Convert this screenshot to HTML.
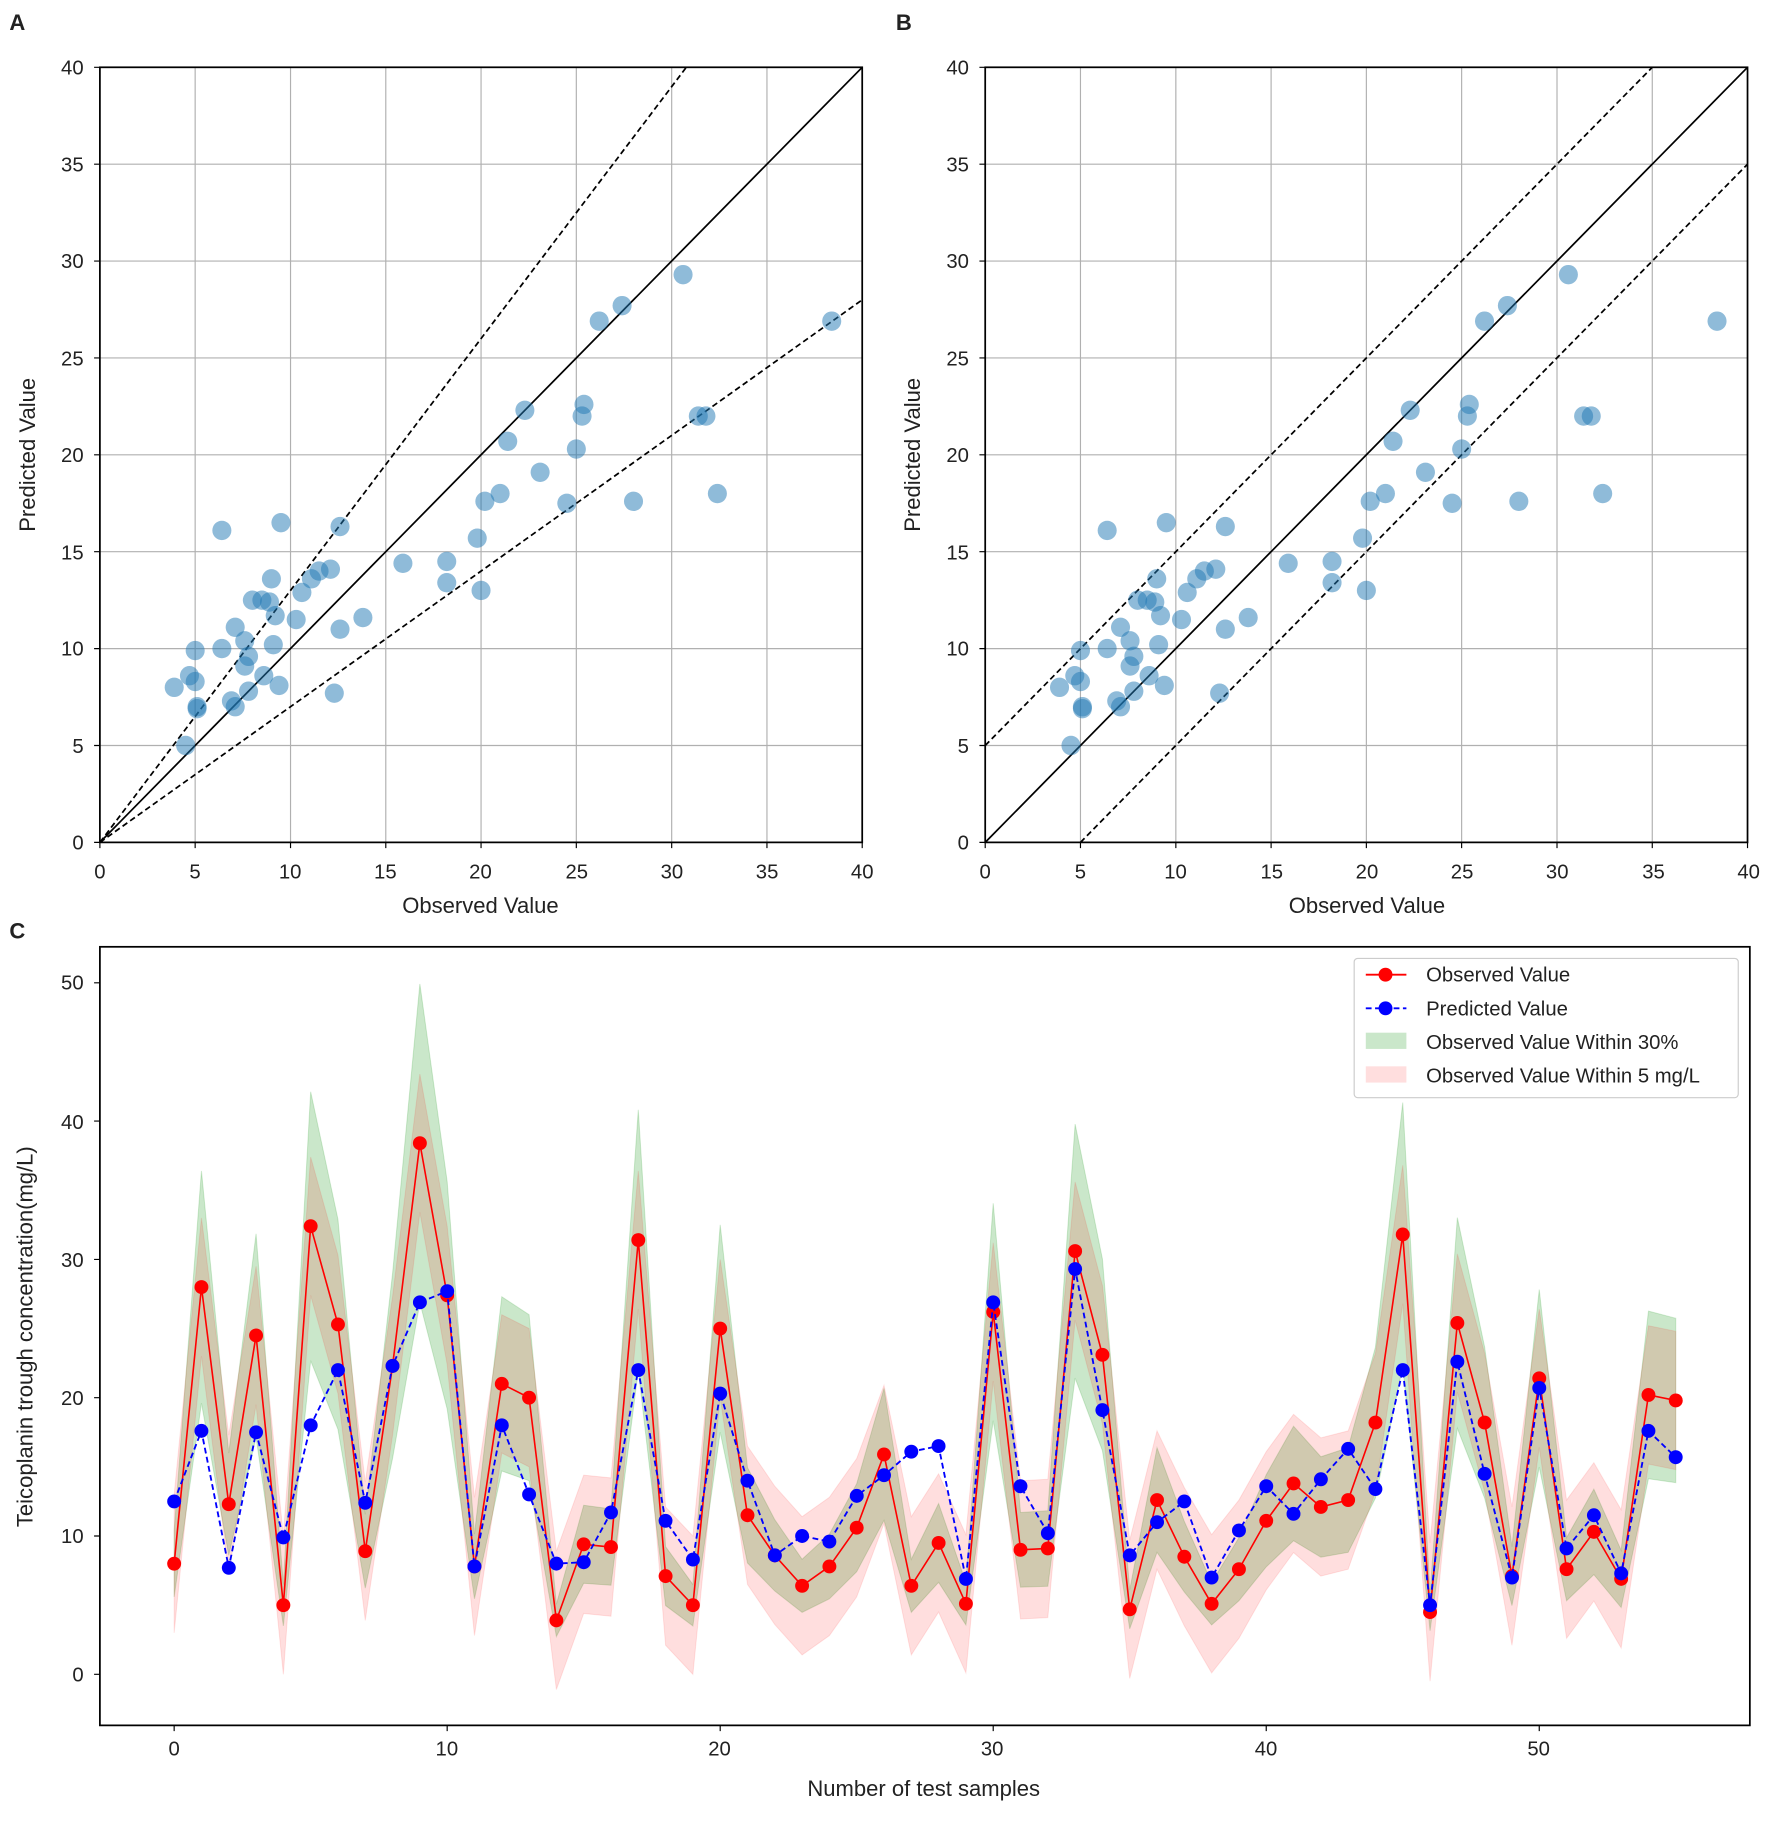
<!DOCTYPE html>
<html><head><meta charset="utf-8"><style>
html,body{margin:0;padding:0;background:#fff}
svg{display:block}
text{font-family:"Liberation Sans",Arial,sans-serif;fill:#222}
</style></head><body>
<svg xmlns="http://www.w3.org/2000/svg" xmlns:xlink="http://www.w3.org/1999/xlink" width="1772" height="1824" viewBox="0 0 1527 1572">
<rect width="1527" height="1572" fill="#fff"/>
<defs>
<g id="grid" stroke="#b0b0b0" stroke-width="1">
<path d="M168.1,58V726M250.3,58V726M332.4,58V726M414.5,58V726M496.6,58V726M578.8,58V726M660.9,58V726M86,642.5H743M86,559H743M86,475.5H743M86,392H743M86,308.5H743M86,225H743M86,141.5H743"/>
<path stroke="#000" d="M86,726v5M168.1,726v5M250.3,726v5M332.4,726v5M414.5,726v5M496.6,726v5M578.8,726v5M660.9,726v5M743,726v5M86,726h-5M86,642.5h-5M86,559h-5M86,475.5h-5M86,392h-5M86,308.5h-5M86,225h-5M86,141.5h-5M86,58h-5"/>
</g>
<g id="sc" transform="translate(86,726) scale(16.425,-16.7)" fill="#1f77b4" fill-opacity="0.5">
<circle cx="8.0" cy="12.5" r="0.5"/><circle cx="28" cy="17.6" r="0.5"/><circle cx="12.3" cy="7.7" r="0.5"/><circle cx="24.5" cy="17.5" r="0.5"/><circle cx="5.0" cy="9.9" r="0.5"/><circle cx="32.4" cy="18.0" r="0.5"/><circle cx="25.3" cy="22.0" r="0.5"/><circle cx="8.9" cy="12.4" r="0.5"/><circle cx="22.3" cy="22.3" r="0.5"/><circle cx="38.4" cy="26.9" r="0.5"/><circle cx="27.4" cy="27.7" r="0.5"/><circle cx="7.8" cy="7.8" r="0.5"/><circle cx="21.0" cy="18.0" r="0.5"/><circle cx="20.0" cy="13.0" r="0.5"/><circle cx="3.9" cy="8.0" r="0.5"/><circle cx="9.4" cy="8.1" r="0.5"/><circle cx="9.2" cy="11.7" r="0.5"/><circle cx="31.4" cy="22.0" r="0.5"/><circle cx="7.1" cy="11.1" r="0.5"/><circle cx="5.0" cy="8.3" r="0.5"/><circle cx="25.0" cy="20.3" r="0.5"/><circle cx="11.5" cy="14.0" r="0.5"/><circle cx="8.6" cy="8.6" r="0.5"/><circle cx="6.4" cy="10.0" r="0.5"/><circle cx="7.8" cy="9.6" r="0.5"/><circle cx="10.6" cy="12.9" r="0.5"/><circle cx="15.9" cy="14.4" r="0.5"/><circle cx="6.4" cy="16.1" r="0.5"/><circle cx="9.5" cy="16.5" r="0.5"/><circle cx="5.1" cy="6.9" r="0.5"/><circle cx="26.2" cy="26.9" r="0.5"/><circle cx="9.0" cy="13.6" r="0.5"/><circle cx="9.1" cy="10.2" r="0.5"/><circle cx="30.6" cy="29.3" r="0.5"/><circle cx="23.1" cy="19.1" r="0.5"/><circle cx="4.7" cy="8.6" r="0.5"/><circle cx="12.6" cy="11.0" r="0.5"/><circle cx="8.5" cy="12.5" r="0.5"/><circle cx="5.1" cy="7.0" r="0.5"/><circle cx="7.6" cy="10.4" r="0.5"/><circle cx="11.1" cy="13.6" r="0.5"/><circle cx="13.8" cy="11.6" r="0.5"/><circle cx="12.1" cy="14.1" r="0.5"/><circle cx="12.6" cy="16.3" r="0.5"/><circle cx="18.2" cy="13.4" r="0.5"/><circle cx="31.8" cy="22.0" r="0.5"/><circle cx="4.5" cy="5.0" r="0.5"/><circle cx="25.4" cy="22.6" r="0.5"/><circle cx="18.2" cy="14.5" r="0.5"/><circle cx="7.1" cy="7.0" r="0.5"/><circle cx="21.4" cy="20.7" r="0.5"/><circle cx="7.6" cy="9.1" r="0.5"/><circle cx="10.3" cy="11.5" r="0.5"/><circle cx="6.9" cy="7.3" r="0.5"/><circle cx="20.2" cy="17.6" r="0.5"/><circle cx="19.8" cy="15.7" r="0.5"/>
</g>
</defs>
<!-- A -->
<use xlink:href="#grid"/>
<line x1="86" y1="726" x2="743" y2="58" stroke="#000" stroke-width="1.5"/>
<line x1="86" y1="726" x2="591.4" y2="58" stroke="#000" stroke-width="1.5" stroke-dasharray="5,3"/>
<line x1="86" y1="726" x2="743" y2="258.4" stroke="#000" stroke-width="1.5" stroke-dasharray="5,3"/>
<use xlink:href="#sc"/>
<rect x="86" y="58" width="657" height="668" fill="none" stroke="#000" stroke-width="1.5"/>
<!-- B -->
<use xlink:href="#grid" transform="translate(763,0)"/>
<line x1="849" y1="726" x2="1506" y2="58" stroke="#000" stroke-width="1.5"/>
<line x1="849" y1="642.5" x2="1423.9" y2="58" stroke="#000" stroke-width="1.5" stroke-dasharray="5,3"/>
<line x1="931.1" y1="726" x2="1506" y2="141.5" stroke="#000" stroke-width="1.5" stroke-dasharray="5,3"/>
<use xlink:href="#sc" transform="translate(763,0)"/>
<rect x="849" y="58" width="657" height="668" fill="none" stroke="#000" stroke-width="1.5"/>

<!-- C -->
<g transform="translate(150,1443) scale(23.53,-11.92)">
<path fill="#2ca02c" fill-opacity="0.25" stroke="#2ca02c" stroke-opacity="0.2" vector-effect="non-scaling-stroke" d="M0,10.4 L1,36.4 L2,16 L3,31.85 L4,6.5 L5,42.12 L6,32.89 L7,11.57 L8,28.99 L9,49.92 L10,35.62 L11,10.14 L12,27.3 L13,26 L14,5.07 L15,12.22 L16,11.96 L17,40.82 L18,9.23 L19,6.5 L20,32.5 L21,14.95 L22,11.18 L23,8.32 L24,10.14 L25,13.78 L26,20.67 L27,8.32 L28,12.35 L29,6.63 L30,34.06 L31,11.7 L32,11.83 L33,39.78 L34,30.03 L35,6.11 L36,16.38 L37,11.05 L38,6.63 L39,9.88 L40,14.43 L41,17.94 L42,15.73 L43,16.38 L44,23.66 L45,41.34 L46,5.85 L47,33.02 L48,23.66 L49,9.23 L50,27.82 L51,9.88 L52,13.39 L53,8.97 L54,26.26 L55,25.74 L55,13.86 L54,14.14 L53,4.83 L52,7.21 L51,5.32 L50,14.98 L49,4.97 L48,12.74 L47,17.78 L46,3.15 L45,22.26 L44,12.74 L43,8.82 L42,8.47 L41,9.66 L40,7.77 L39,5.32 L38,3.57 L37,5.95 L36,8.82 L35,3.29 L34,16.17 L33,21.42 L32,6.37 L31,6.3 L30,18.34 L29,3.57 L28,6.65 L27,4.48 L26,11.13 L25,7.42 L24,5.46 L23,4.48 L22,6.02 L21,8.05 L20,17.5 L19,3.5 L18,4.97 L17,21.98 L16,6.44 L15,6.58 L14,2.73 L13,14 L12,14.7 L11,5.46 L10,19.18 L9,26.88 L8,15.61 L7,6.23 L6,17.71 L5,22.68 L4,3.5 L3,17.15 L2,8.61 L1,19.6 L0,5.6Z"/>
<path fill="#ff0000" fill-opacity="0.13" stroke="#ff0000" stroke-opacity="0.1" vector-effect="non-scaling-stroke" d="M0,13 L1,33 L2,17.3 L3,29.5 L4,10 L5,37.4 L6,30.3 L7,13.9 L8,27.3 L9,43.4 L10,32.4 L11,12.8 L12,26 L13,25 L14,8.9 L15,14.4 L16,14.2 L17,36.4 L18,12.1 L19,10 L20,30 L21,16.5 L22,13.6 L23,11.4 L24,12.8 L25,15.6 L26,20.9 L27,11.4 L28,14.5 L29,10.1 L30,31.2 L31,14 L32,14.1 L33,35.6 L34,28.1 L35,9.7 L36,17.6 L37,13.5 L38,10.1 L39,12.6 L40,16.1 L41,18.8 L42,17.1 L43,17.6 L44,23.2 L45,36.8 L46,9.5 L47,30.4 L48,23.2 L49,12.1 L50,26.4 L51,12.6 L52,15.3 L53,11.9 L54,25.2 L55,24.8 L55,14.8 L54,15.2 L53,1.9 L52,5.3 L51,2.6 L50,16.4 L49,2.1 L48,13.2 L47,20.4 L46,-0.5 L45,26.8 L44,13.2 L43,7.6 L42,7.1 L41,8.8 L40,6.1 L39,2.6 L38,0.1 L37,3.5 L36,7.6 L35,-0.3 L34,18.1 L33,25.6 L32,4.1 L31,4 L30,21.2 L29,0.1 L28,4.5 L27,1.4 L26,10.9 L25,5.6 L24,2.8 L23,1.4 L22,3.6 L21,6.5 L20,20 L19,0 L18,2.1 L17,26.4 L16,4.2 L15,4.4 L14,-1.1 L13,15 L12,16 L11,2.8 L10,22.4 L9,33.4 L8,17.3 L7,3.9 L6,20.3 L5,27.4 L4,0 L3,19.5 L2,7.3 L1,23 L0,3Z"/>
<polyline fill="none" stroke="red" stroke-width="1.6" vector-effect="non-scaling-stroke" points="0,8 1,28 2,12.3 3,24.5 4,5 5,32.4 6,25.3 7,8.9 8,22.3 9,38.4 10,27.4 11,7.8 12,21 13,20 14,3.9 15,9.4 16,9.2 17,31.4 18,7.1 19,5 20,25 21,11.5 22,8.6 23,6.4 24,7.8 25,10.6 26,15.9 27,6.4 28,9.5 29,5.1 30,26.2 31,9 32,9.1 33,30.6 34,23.1 35,4.7 36,12.6 37,8.5 38,5.1 39,7.6 40,11.1 41,13.8 42,12.1 43,12.6 44,18.2 45,31.8 46,4.5 47,25.4 48,18.2 49,7.1 50,21.4 51,7.6 52,10.3 53,6.9 54,20.2 55,19.8"/>
<g fill="red">
<ellipse cx="0" cy="8" rx="0.255" ry="0.503"/><ellipse cx="1" cy="28" rx="0.255" ry="0.503"/><ellipse cx="2" cy="12.3" rx="0.255" ry="0.503"/><ellipse cx="3" cy="24.5" rx="0.255" ry="0.503"/><ellipse cx="4" cy="5" rx="0.255" ry="0.503"/><ellipse cx="5" cy="32.4" rx="0.255" ry="0.503"/><ellipse cx="6" cy="25.3" rx="0.255" ry="0.503"/><ellipse cx="7" cy="8.9" rx="0.255" ry="0.503"/><ellipse cx="8" cy="22.3" rx="0.255" ry="0.503"/><ellipse cx="9" cy="38.4" rx="0.255" ry="0.503"/><ellipse cx="10" cy="27.4" rx="0.255" ry="0.503"/><ellipse cx="11" cy="7.8" rx="0.255" ry="0.503"/><ellipse cx="12" cy="21" rx="0.255" ry="0.503"/><ellipse cx="13" cy="20" rx="0.255" ry="0.503"/><ellipse cx="14" cy="3.9" rx="0.255" ry="0.503"/><ellipse cx="15" cy="9.4" rx="0.255" ry="0.503"/><ellipse cx="16" cy="9.2" rx="0.255" ry="0.503"/><ellipse cx="17" cy="31.4" rx="0.255" ry="0.503"/><ellipse cx="18" cy="7.1" rx="0.255" ry="0.503"/><ellipse cx="19" cy="5" rx="0.255" ry="0.503"/><ellipse cx="20" cy="25" rx="0.255" ry="0.503"/><ellipse cx="21" cy="11.5" rx="0.255" ry="0.503"/><ellipse cx="22" cy="8.6" rx="0.255" ry="0.503"/><ellipse cx="23" cy="6.4" rx="0.255" ry="0.503"/><ellipse cx="24" cy="7.8" rx="0.255" ry="0.503"/><ellipse cx="25" cy="10.6" rx="0.255" ry="0.503"/><ellipse cx="26" cy="15.9" rx="0.255" ry="0.503"/><ellipse cx="27" cy="6.4" rx="0.255" ry="0.503"/><ellipse cx="28" cy="9.5" rx="0.255" ry="0.503"/><ellipse cx="29" cy="5.1" rx="0.255" ry="0.503"/><ellipse cx="30" cy="26.2" rx="0.255" ry="0.503"/><ellipse cx="31" cy="9" rx="0.255" ry="0.503"/><ellipse cx="32" cy="9.1" rx="0.255" ry="0.503"/><ellipse cx="33" cy="30.6" rx="0.255" ry="0.503"/><ellipse cx="34" cy="23.1" rx="0.255" ry="0.503"/><ellipse cx="35" cy="4.7" rx="0.255" ry="0.503"/><ellipse cx="36" cy="12.6" rx="0.255" ry="0.503"/><ellipse cx="37" cy="8.5" rx="0.255" ry="0.503"/><ellipse cx="38" cy="5.1" rx="0.255" ry="0.503"/><ellipse cx="39" cy="7.6" rx="0.255" ry="0.503"/><ellipse cx="40" cy="11.1" rx="0.255" ry="0.503"/><ellipse cx="41" cy="13.8" rx="0.255" ry="0.503"/><ellipse cx="42" cy="12.1" rx="0.255" ry="0.503"/><ellipse cx="43" cy="12.6" rx="0.255" ry="0.503"/><ellipse cx="44" cy="18.2" rx="0.255" ry="0.503"/><ellipse cx="45" cy="31.8" rx="0.255" ry="0.503"/><ellipse cx="46" cy="4.5" rx="0.255" ry="0.503"/><ellipse cx="47" cy="25.4" rx="0.255" ry="0.503"/><ellipse cx="48" cy="18.2" rx="0.255" ry="0.503"/><ellipse cx="49" cy="7.1" rx="0.255" ry="0.503"/><ellipse cx="50" cy="21.4" rx="0.255" ry="0.503"/><ellipse cx="51" cy="7.6" rx="0.255" ry="0.503"/><ellipse cx="52" cy="10.3" rx="0.255" ry="0.503"/><ellipse cx="53" cy="6.9" rx="0.255" ry="0.503"/><ellipse cx="54" cy="20.2" rx="0.255" ry="0.503"/><ellipse cx="55" cy="19.8" rx="0.255" ry="0.503"/>
</g>
</g>
<polyline fill="none" stroke="blue" stroke-width="1.6" stroke-dasharray="5,3" points="150,1294 173.5,1233.2 197.1,1351.2 220.6,1234.4 244.1,1325 267.7,1228.4 291.2,1180.8 314.7,1295.2 338.2,1177.2 361.8,1122.4 385.3,1112.8 408.8,1350 432.4,1228.4 455.9,1288 479.4,1347.6 503,1346.4 526.5,1303.5 550,1180.8 573.5,1310.7 597.1,1344.1 620.6,1201 644.1,1276.1 667.7,1340.5 691.2,1323.8 714.7,1328.6 738.3,1289.2 761.8,1271.4 785.3,1251.1 808.8,1246.3 832.4,1360.8 855.9,1122.4 879.4,1280.9 903,1321.4 926.5,1093.7 950,1215.3 973.6,1340.5 997.1,1311.9 1020.6,1294 1044.1,1359.6 1067.7,1319 1091.2,1280.9 1114.7,1304.7 1138.3,1274.9 1161.8,1248.7 1185.3,1283.3 1208.9,1180.8 1232.4,1383.4 1255.9,1173.6 1279.4,1270.2 1303,1359.6 1326.5,1196.2 1350,1334.5 1373.6,1305.9 1397.1,1356 1420.6,1233.2 1444.1,1255.9"/>
<g fill="blue">
<circle cx="150" cy="1294" r="6"/><circle cx="173.5" cy="1233.2" r="6"/><circle cx="197.1" cy="1351.2" r="6"/><circle cx="220.6" cy="1234.4" r="6"/><circle cx="244.1" cy="1325" r="6"/><circle cx="267.7" cy="1228.4" r="6"/><circle cx="291.2" cy="1180.8" r="6"/><circle cx="314.7" cy="1295.2" r="6"/><circle cx="338.2" cy="1177.2" r="6"/><circle cx="361.8" cy="1122.4" r="6"/><circle cx="385.3" cy="1112.8" r="6"/><circle cx="408.8" cy="1350" r="6"/><circle cx="432.4" cy="1228.4" r="6"/><circle cx="455.9" cy="1288" r="6"/><circle cx="479.4" cy="1347.6" r="6"/><circle cx="503" cy="1346.4" r="6"/><circle cx="526.5" cy="1303.5" r="6"/><circle cx="550" cy="1180.8" r="6"/><circle cx="573.5" cy="1310.7" r="6"/><circle cx="597.1" cy="1344.1" r="6"/><circle cx="620.6" cy="1201" r="6"/><circle cx="644.1" cy="1276.1" r="6"/><circle cx="667.7" cy="1340.5" r="6"/><circle cx="691.2" cy="1323.8" r="6"/><circle cx="714.7" cy="1328.6" r="6"/><circle cx="738.3" cy="1289.2" r="6"/><circle cx="761.8" cy="1271.4" r="6"/><circle cx="785.3" cy="1251.1" r="6"/><circle cx="808.8" cy="1246.3" r="6"/><circle cx="832.4" cy="1360.8" r="6"/><circle cx="855.9" cy="1122.4" r="6"/><circle cx="879.4" cy="1280.9" r="6"/><circle cx="903" cy="1321.4" r="6"/><circle cx="926.5" cy="1093.7" r="6"/><circle cx="950" cy="1215.3" r="6"/><circle cx="973.6" cy="1340.5" r="6"/><circle cx="997.1" cy="1311.9" r="6"/><circle cx="1020.6" cy="1294" r="6"/><circle cx="1044.1" cy="1359.6" r="6"/><circle cx="1067.7" cy="1319" r="6"/><circle cx="1091.2" cy="1280.9" r="6"/><circle cx="1114.7" cy="1304.7" r="6"/><circle cx="1138.3" cy="1274.9" r="6"/><circle cx="1161.8" cy="1248.7" r="6"/><circle cx="1185.3" cy="1283.3" r="6"/><circle cx="1208.9" cy="1180.8" r="6"/><circle cx="1232.4" cy="1383.4" r="6"/><circle cx="1255.9" cy="1173.6" r="6"/><circle cx="1279.4" cy="1270.2" r="6"/><circle cx="1303" cy="1359.6" r="6"/><circle cx="1326.5" cy="1196.2" r="6"/><circle cx="1350" cy="1334.5" r="6"/><circle cx="1373.6" cy="1305.9" r="6"/><circle cx="1397.1" cy="1356" r="6"/><circle cx="1420.6" cy="1233.2" r="6"/><circle cx="1444.1" cy="1255.9" r="6"/>
</g>
<path stroke="#000" d="M150,1487v5M385.3,1487v5M620.6,1487v5M855.9,1487v5M1091.2,1487v5M1326.5,1487v5M86,1443h-5M86,1323.8h-5M86,1204.6h-5M86,1085.4h-5M86,966.2h-5M86,847h-5"/>
<rect x="86" y="816" width="1422" height="671" fill="none" stroke="#000" stroke-width="1.5"/>

<text x="8" y="26" font-size="19" font-weight="bold">A</text>
<text x="772" y="26" font-size="19" font-weight="bold">B</text>
<text x="8" y="809" font-size="19" font-weight="bold">C</text>
<g font-size="17.5" text-anchor="end">
<text x="72" y="732">0</text><text x="72" y="649">5</text><text x="72" y="565">10</text><text x="72" y="482">15</text><text x="72" y="398">20</text><text x="72" y="315">25</text><text x="72" y="231">30</text><text x="72" y="148">35</text><text x="72" y="64">40</text>
<text x="835" y="732">0</text><text x="835" y="649">5</text><text x="835" y="565">10</text><text x="835" y="482">15</text><text x="835" y="398">20</text><text x="835" y="315">25</text><text x="835" y="231">30</text><text x="835" y="148">35</text><text x="835" y="64">40</text>
<text x="72" y="1449">0</text><text x="72" y="1330">10</text><text x="72" y="1211">20</text><text x="72" y="1092">30</text><text x="72" y="973">40</text><text x="72" y="853">50</text>
</g>
<g font-size="17.5" text-anchor="middle">
<text x="86" y="757">0</text><text x="168" y="757">5</text><text x="250" y="757">10</text><text x="332" y="757">15</text><text x="414" y="757">20</text><text x="497" y="757">25</text><text x="579" y="757">30</text><text x="661" y="757">35</text><text x="743" y="757">40</text>
<text x="849" y="757">0</text><text x="931" y="757">5</text><text x="1013" y="757">10</text><text x="1096" y="757">15</text><text x="1178" y="757">20</text><text x="1260" y="757">25</text><text x="1342" y="757">30</text><text x="1425" y="757">35</text><text x="1507" y="757">40</text>
<text x="150" y="1513">0</text><text x="385" y="1513">10</text><text x="620" y="1513">20</text><text x="855" y="1513">30</text><text x="1091" y="1513">40</text><text x="1326" y="1513">50</text>
<text x="414" y="787" font-size="19">Observed Value</text>
<text x="1178" y="787" font-size="19">Observed Value</text>
<text x="796" y="1548" font-size="19">Number of test samples</text>
<text transform="translate(30,392) rotate(-90)" font-size="19">Predicted Value</text>
<text transform="translate(793,392) rotate(-90)" font-size="19">Predicted Value</text>
<text transform="translate(28,1152) rotate(-90)" font-size="19">Teicoplanin trough concentration(mg/L)</text>
</g>
<g>
<rect x="1167" y="826" width="331" height="120" rx="3" fill="#fff" fill-opacity="0.85" stroke="#ccc"/>
<line x1="1177" y1="840" x2="1212" y2="840" stroke="red" stroke-width="1.6"/><circle cx="1194" cy="840" r="6" fill="red"/>
<line x1="1177" y1="869" x2="1212" y2="869" stroke="blue" stroke-width="1.6" stroke-dasharray="5,3"/><circle cx="1194" cy="869" r="6" fill="blue"/>
<rect x="1177" y="890" width="35" height="14" fill="#2ca02c" fill-opacity="0.25"/>
<rect x="1177" y="919" width="35" height="14" fill="red" fill-opacity="0.13"/>
<g font-size="17.5"><text x="1229" y="846">Observed Value</text><text x="1229" y="875">Predicted Value</text><text x="1229" y="904">Observed Value Within 30%</text><text x="1229" y="933">Observed Value Within 5 mg/L</text></g>
</g>
</svg>
</body></html>
